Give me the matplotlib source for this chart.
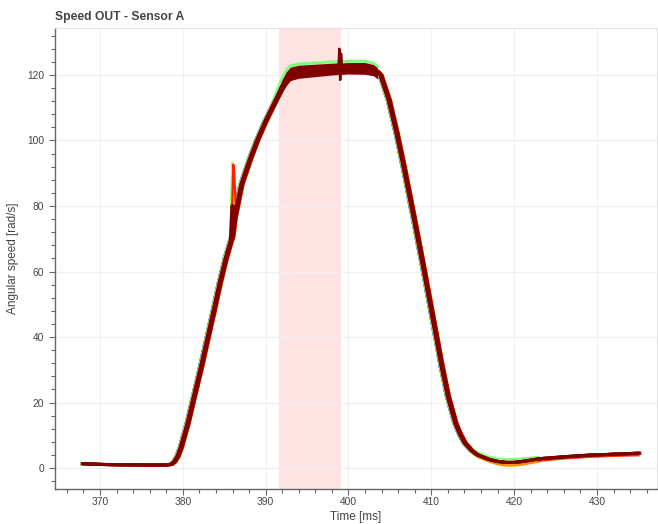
import matplotlib
matplotlib.use("Agg")
import matplotlib.pyplot as plt
from matplotlib.ticker import MultipleLocator
from matplotlib.transforms import offset_copy

plt.rcParams["font.family"] = ["Liberation Sans", "DejaVu Sans"]

# -----------------------------------
# Data
# -----------------------------------
# median profile of the runs (time in ms, speed in rad/s)
time_ms = [368.0, 370.0, 372.0, 374.0, 376.0, 378.0, 378.6, 379.0, 379.4, 379.8,
           380.6, 381.4, 382.25, 383.05, 383.85, 384.5, 385.2, 385.75, 386.0, 386.3,
           387.1, 388.1, 389.0, 390.0, 391.0, 392.0, 393.0, 394.0, 396.0, 398.0,
           400.0, 402.0, 403.0, 403.5, 403.9, 404.9, 405.85, 406.7, 407.5, 408.28,
           409.05, 409.8, 410.55, 411.3, 412.05, 412.95, 413.5, 414.1, 414.9, 415.6,
           417.0, 418.0, 419.0, 420.0, 421.0, 423.0, 426.0, 429.0, 432.0, 435.0]
speed = [1.3, 1.1, 1.0, 0.95, 0.9, 0.9, 1.1, 1.9, 3.6, 6.3,
         13.5, 22.0, 31.0, 40.0, 49.0, 56.5, 63.8, 68.6, 70.5, 76.5,
         86.5, 94.0, 100.0, 105.8, 111.0, 116.3, 119.8, 120.8, 121.2, 121.6,
         122.0, 122.2, 121.8, 121.0, 120.0, 112.4, 102.2, 92.0, 81.8, 71.7,
         61.5, 51.3, 41.1, 30.9, 21.8, 13.6, 10.3, 7.5, 5.3, 4.0,
         2.6, 2.0, 1.7, 1.7, 2.0, 2.8, 3.4, 3.9, 4.2, 4.5]

# noise band on the plateau (dark red body and the green top edge)
band_t = [391.0, 391.5, 392.0, 392.5, 393.0, 394.0, 396.0, 398.0, 400.0, 402.0, 403.0, 403.5]
band_low = [109.8, 112.2, 114.6, 116.8, 118.3, 119.0, 119.5, 120.0, 120.3, 120.2, 119.8, 118.8]
band_high = [112.3, 115.6, 118.6, 121.0, 122.4, 123.0, 123.3, 123.6, 123.8, 123.8, 123.2, 122.2]
green_high = [112.6, 116.0, 119.0, 121.4, 122.8, 123.4, 123.7, 124.0, 124.2, 124.2, 123.6, 122.6]

# spread of the runs around the minimum
trough_t = [415.0, 415.6, 417.0, 418.0, 419.0, 420.0, 421.0, 423.0]
green_trough = [5.9, 4.8, 3.4, 2.9, 2.7, 2.7, 2.9, 3.4]
orange_trough = [4.6, 3.4, 2.0, 1.2, 0.8, 0.8, 1.1, 2.0]
end_t = [423.0, 426.0, 429.0, 432.0, 435.0]
red_end = [2.2, 2.9, 3.4, 3.7, 3.9]

# glitch near 386 ms (some runs) and the one near 399 ms
spike_t = [385.85, 386.1, 386.2, 386.45]
spike_v = [69.5, 92.6, 90.5, 77.0]
cyan_spike_t = [385.88, 385.98]
cyan_spike_v = [79.0, 88.0]
spike_dr_t = [385.8, 386.0, 386.15, 386.35]
spike_dr_v = [69.0, 80.0, 79.0, 77.0]
spike2_t = [398.8, 398.9, 399.0, 399.1, 399.25]
spike2_v = [122.0, 128.0, 118.5, 126.5, 121.5]

# highlighted window
window = (391.65, 399.06)

# run colours (jet-like), drawn dark red last
run_colors = ["#0000e0", "#00c8ff", "#7dff7a", "#ffe000", "#ff8c00", "#ff2000"]
run_dx = [-1.9, -1.7, -1.6, -1.4, 1.5, 1.3]
dark_red = "#800000"

fig = plt.figure(figsize=(6.58, 5.24), dpi=100)
ax = fig.add_axes([55 / 658, 35 / 524, 602 / 658, 461 / 524])

ax.axvspan(window[0], window[1], color="red", alpha=0.11, lw=0, zorder=0.5)

lw = 2.2
for color, dx in zip(run_colors, run_dx):
    tr = offset_copy(ax.transData, fig=fig, x=dx, y=0, units="dots")
    ax.plot(time_ms, speed, color=color, lw=lw, transform=tr, zorder=2)

# edges where single runs stick out of the bundle
ax.plot(band_t, green_high, color="#7dff7a", lw=2.2, zorder=2)
ax.plot(trough_t, green_trough, color="#7dff7a", lw=1.6, zorder=2)
ax.plot(trough_t, orange_trough, color="#ff8c00", lw=1.8, zorder=2)
ax.plot(end_t, red_end, color="#ff3000", lw=1.6, zorder=2)

# spike at 386 ms
ax.plot(cyan_spike_t, cyan_spike_v, color="#00c8ff", lw=1.4, zorder=2)
for color, dy in [("#7dff7a", 2.0), ("#ffe000", 1.0), ("#ff2000", 0.0)]:
    tr = offset_copy(ax.transData, fig=fig, x=-0.5 * dy, y=dy, units="dots")
    ax.plot(spike_t, spike_v, color=color, lw=1.6, transform=tr, zorder=2.5)

# dark red bundle on top
for jx in (-1.0, 0.0, 1.0):
    tr = offset_copy(ax.transData, fig=fig, x=jx, y=0, units="dots")
    ax.plot(time_ms, speed, color=dark_red, lw=lw, transform=tr, zorder=3)
ax.fill_between(band_t, band_low, band_high, color=dark_red, lw=0, zorder=3)
ax.plot(spike_dr_t, spike_dr_v, color=dark_red, lw=3.0, zorder=3)
ax.plot(spike2_t, spike2_v, color=dark_red, lw=1.8, zorder=3)

ax.set_xlim(364.57, 437.25)
ax.set_ylim(-6.41, 134.35)

ax.xaxis.set_major_locator(MultipleLocator(10))
ax.xaxis.set_minor_locator(MultipleLocator(2))
ax.yaxis.set_major_locator(MultipleLocator(20))
ax.yaxis.set_minor_locator(MultipleLocator(4))

ax.grid(True, which="major", color="#f0f0f0", lw=0.8, zorder=0)
ax.set_axisbelow(True)

for side in ["top", "right"]:
    ax.spines[side].set_color("#e3e3e3")
    ax.spines[side].set_linewidth(0.8)
for side in ["left", "bottom"]:
    ax.spines[side].set_color("#666666")
    ax.spines[side].set_linewidth(1.0)

ax.tick_params(which="major", direction="out", length=4.3, width=0.8,
               color="#666666", labelcolor="#444444", labelsize=7.4)
ax.tick_params(which="minor", direction="out", length=2.9, width=0.8, color="#666666")
ax.tick_params(axis="x", pad=1.5)
ax.tick_params(axis="y", pad=3.5)

ax.set_xlabel("Time [ms]", fontsize=8.5, color="#444444", labelpad=3)
ax.set_ylabel("Angular speed [rad/s]", fontsize=8.5, color="#444444", labelpad=6)

fig.text(55 / 658, 1 - 20 / 524, "Speed OUT - Sensor A", fontsize=8.7,
         fontweight="bold", color="#444444", ha="left", va="baseline")

fig.savefig("out.png", dpi=100)
plt.close(fig)
